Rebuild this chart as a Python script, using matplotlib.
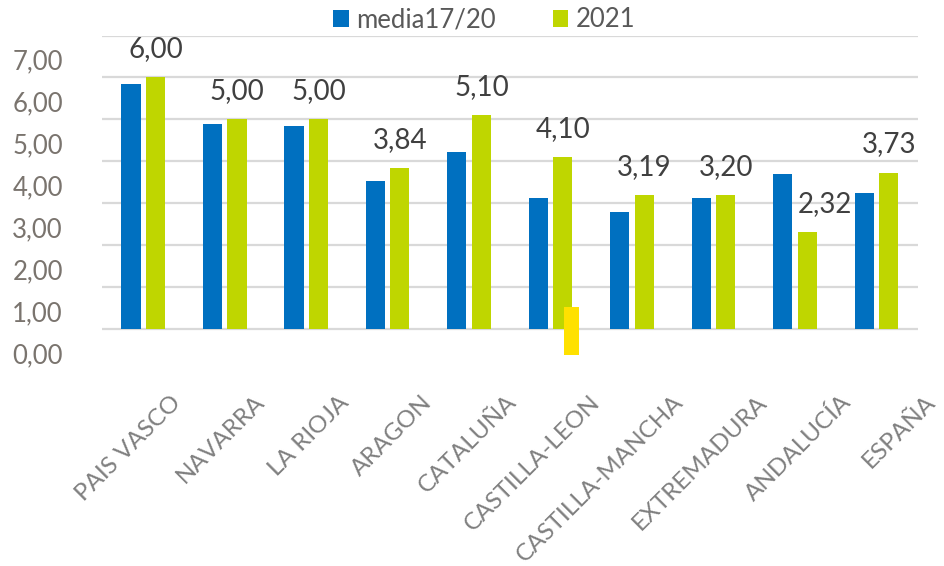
import numpy as np
import matplotlib
matplotlib.use("Agg")
import matplotlib.pyplot as plt
from matplotlib.patches import Patch

# ---- data ----
categories = ["PAIS VASCO", "NAVARRA", "LA RIOJA", "ARAGON", "CATALUÑA",
              "CASTILLA-LEON", "CASTILLA-MANCHA", "EXTREMADURA", "ANDALUCÍA", "ESPAÑA"]
media_17_20 = [5.85, 4.89, 4.85, 3.53, 4.22, 3.13, 2.80, 3.13, 3.70, 3.25]
values_2021 = [6.00, 5.00, 5.00, 3.84, 5.10, 4.10, 3.19, 3.20, 2.32, 3.73]
series_names = ["media17/20", "2021"]
y_ticks = [0, 1, 2, 3, 4, 5, 6, 7]
# yellow highlighter mark seen over the CASTILLA-LEON bar
highlight_category = "CASTILLA-LEON"
highlight_low, highlight_high = -0.61, 0.53

# ---- style ----
BLUE = "#0070C0"
GREEN = "#BFD600"
YELLOW = "#FFE100"
GRID = "#D9D9D9"
plt.rcParams["font.family"] = ["Lato", "DejaVu Sans"]

W, H = 944, 566
fig = plt.figure(figsize=(W / 100, H / 100), dpi=100)
px_left, px_right = 101.7, 918.0
px_top, px_bottom = 35.5, 362.9
ax = fig.add_axes([px_left / W, 1 - px_bottom / H,
                   (px_right - px_left) / W, (px_bottom - px_top) / H])

x = np.arange(len(categories))
bw = 0.235
off = 0.15
b1 = ax.bar(x - off, media_17_20, width=bw, color=BLUE, zorder=3)
b2 = ax.bar(x + off, values_2021, width=bw, color=GREEN, zorder=3)

hi = categories.index(highlight_category)
ax.bar([hi + off + 0.11], [highlight_high - highlight_low], bottom=highlight_low,
       width=0.185, color=YELLOW, zorder=4, clip_on=False)

labels = ax.bar_label(b2, labels=[f"{v:.2f}".replace(".", ",") for v in values_2021],
                      padding=11, fontsize=20, color="#404040")
# the ANDALUCÍA label sits a little to the right in the reference
labels[categories.index("ANDALUCÍA")].xyann = (13, 11)

ax.set_xlim(-0.51, len(categories) - 0.49)
ax.set_ylim(-0.8, 7.0)
ax.set_yticks(y_ticks)
ax.set_xticks([])
ax.yaxis.grid(True, color=GRID, linewidth=1.6, zorder=0)
ax.tick_params(axis="y", length=0, labelleft=False)
for s in ax.spines.values():
    s.set_visible(False)

# category labels (on a slightly wider spacing than the bars, as in the reference)
for i, name in enumerate(categories):
    ax.text(0.423 + 1.028 * i, -0.110, name, transform=ax.get_xaxis_transform(),
            rotation=45, ha="right", va="center", rotation_mode="anchor",
            fontsize=17.5, color="#7F7F7F")

# y tick labels, shifted relative to the gridlines as in the reference
ax2 = ax.twinx()
shift = 0.57
ax2.set_ylim(-0.8 + shift, 7.0 + shift)
ax2.set_yticks(y_ticks)
ax2.set_yticklabels([f"{v:.2f}".replace(".", ",") for v in y_ticks])
ax2.yaxis.tick_left()
ax2.tick_params(axis="y", length=0, pad=28, labelsize=18.5, labelcolor="#7A746E")
for s in ax2.spines.values():
    s.set_visible(False)

handles = [Patch(facecolor=BLUE, edgecolor="none"), Patch(facecolor=GREEN, edgecolor="none")]
fig.legend(handles, series_names, loc="center", bbox_to_anchor=(0.513, 0.965), ncol=2,
           frameon=False, fontsize=18.5, labelcolor="#595959",
           handlelength=0.62, handleheight=0.62, handletextpad=0.3, columnspacing=2.2)

fig.savefig("out.png", dpi=100)
